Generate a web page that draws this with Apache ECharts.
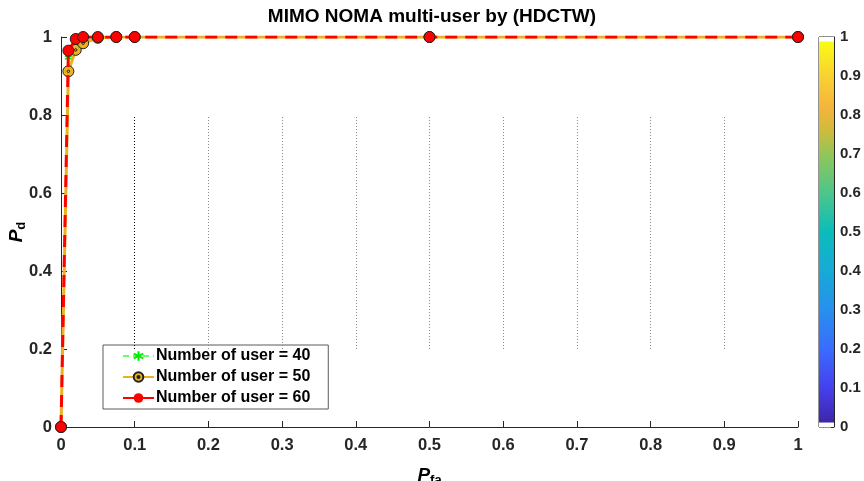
<!DOCTYPE html>
<html><head><meta charset="utf-8">
<script src="https://cdn.jsdelivr.net/npm/echarts@6/dist/echarts.min.js"></script>
<style>html,body{margin:0;padding:0;background:#fff}#c{width:864px;height:481px}</style>
</head><body><div id="c"></div>
<script>
const titleText = 'MIMO NOMA multi-user by (HDCTW)';
const pfa = [0, 0.01, 0.02, 0.03, 0.05, 0.075, 0.1, 0.5, 1];
const pd40 = [0, 0.947, 0.985, 0.995, 1, 1, 1, 1, 1];
const pd50 = [0, 0.912, 0.967, 0.984, 0.998, 1, 1, 1, 1];
const pd60 = [0, 0.965, 0.995, 1, 1, 1, 1, 1, 1];
const seriesNames = ['Number of user = 40', 'Number of user = 50', 'Number of user = 60'];
const guideX = [0.1, 0.2, 0.3, 0.4, 0.5, 0.6, 0.7, 0.8, 0.9];
const guideYLow = 0.2, guideYHigh = 0.8;
const xTicks = [0, 0.1, 0.2, 0.3, 0.4, 0.5, 0.6, 0.7, 0.8, 0.9, 1];
const yTicks = [0, 0.2, 0.4, 0.6, 0.8, 1];
const cbarTicks = [0, 0.1, 0.2, 0.3, 0.4, 0.5, 0.6, 0.7, 0.8, 0.9, 1];

const FONT = 'Liberation Sans';
const AX = '#262626';
const pairs = ys => pfa.map((x, i) => [x, ys[i]]);
const fmt = v => String(+v.toFixed(2));

const starPath = 'path://M0,-10L0,10M-8.66,-5L8.66,5M-8.66,5L8.66,-5';
const ringPath = 'path://M10,0A10,10 0 1,1 -10,0A10,10 0 1,1 10,0ZM2.2,0A2.2,2.2 0 1,1 -2.2,0A2.2,2.2 0 1,1 2.2,0Z';

const parula = [
  [0, '#ffffff'], [0.011, '#ffffff'], [0.012, '#3e26a8'],
  [0.1, '#4540ee'], [0.2, '#3a6cfd'], [0.3, '#2790ed'], [0.4, '#17aad6'],
  [0.5, '#0bbcbc'], [0.6, '#4cc68a'], [0.7, '#93c55a'], [0.76, '#cfbb3c'],
  [0.82, '#f5b43c'], [0.9, '#f9d132'], [0.988, '#f9fb15'], [0.989, '#ffffff'], [1, '#ffffff']
].map(([o, c]) => ({ offset: 1 - o, color: c }));

const nameRich = {
  p: { fontFamily: FONT, fontStyle: 'italic', fontWeight: 'bold', fontSize: 19, color: '#000' },
  s: { fontFamily: FONT, fontWeight: 'bold', fontSize: 13, color: '#000', verticalAlign: 'bottom', padding: [9, 0, 0, 0] }
};

const chart = echarts.init(document.getElementById('c'), null, { renderer: 'canvas' });
chart.setOption({
  animation: false,
  backgroundColor: '#ffffff',
  textStyle: { fontFamily: FONT },
  title: {
    text: titleText, left: 427, top: 2, textAlign: 'center',
    textStyle: { fontFamily: FONT, fontWeight: 'bold', fontSize: 19, color: '#000' }
  },
  grid: [
    { left: 61, right: 66, top: 37, bottom: 54, containLabel: false, outerBoundsMode: 'none' },
    { left: 819, width: 15, top: 37, height: 390, show: true, borderColor: AX, borderWidth: 1, backgroundColor: 'transparent', containLabel: false, outerBoundsMode: 'none' }
  ],
  legend: {
    orient: 'vertical', left: 103, top: 345,
    data: [
      { name: seriesNames[0] },
      { name: seriesNames[1] },
      { name: seriesNames[2], itemStyle: { borderWidth: 0 } }
    ],
    backgroundColor: '#fff', borderColor: '#5a5a5a', borderWidth: 1,
    padding: [3, 18, 3, 19], itemGap: 5, itemWidth: 31, itemHeight: 12,
    textStyle: { fontFamily: FONT, fontWeight: 'bold', fontSize: 16, color: '#000', padding: [0, 0, 0, -3] }
  },
  xAxis: [
    {
      type: 'value', gridIndex: 0, min: 0, max: 1, interval: 0.1,
      name: '{p|P}{s|fa}', nameLocation: 'middle', nameGap: 38, nameMoveOverlap: false,
      nameTextStyle: { rich: nameRich },
      axisLine: { show: true, onZero: false, lineStyle: { color: AX, width: 1 } },
      axisTick: { show: true, inside: true, length: 6, lineStyle: { color: AX } },
      axisLabel: { formatter: fmt, fontFamily: FONT, fontWeight: 'bold', fontSize: 16.5, color: '#262626', margin: 10 },
      splitLine: { show: false }
    },
    { type: 'category', gridIndex: 1, data: [''], show: false }
  ],
  yAxis: [
    {
      type: 'value', gridIndex: 0, min: 0, max: 1, interval: 0.2,
      name: '{p|P}{s|d}', nameLocation: 'middle', nameGap: 33, nameRotate: 90, nameMoveOverlap: false,
      nameTextStyle: { rich: nameRich },
      axisLine: { show: true, onZero: false, lineStyle: { color: AX, width: 1 } },
      axisTick: { show: true, inside: true, length: 6, lineStyle: { color: AX } },
      axisLabel: { formatter: fmt, fontFamily: FONT, fontWeight: 'bold', fontSize: 16.5, color: '#262626', margin: 9 },
      splitLine: { show: false }
    },
    {
      type: 'value', gridIndex: 1, min: 0, max: 1, interval: 0.1, position: 'right',
      axisLine: { show: true, lineStyle: { color: AX } },
      axisTick: { show: true, inside: true, length: 3, lineStyle: { color: AX } },
      axisLabel: { formatter: fmt, fontFamily: FONT, fontWeight: 'bold', fontSize: 15, color: '#262626', margin: 6 },
      splitLine: { show: false }
    }
  ],
  series: [
    {
      name: 'guides', type: 'line', xAxisIndex: 0, yAxisIndex: 0, data: [], silent: true,
      markLine: {
        silent: true, symbol: 'none', label: { show: false }, animation: false,
        data: guideX.map((x, i) => [
          { coord: [x, guideYLow], lineStyle: { color: i === 0 ? '#000' : '#8a8a8a', type: [1, 2], width: 1 } },
          { coord: [x, guideYHigh] }
        ])
      }
    },
    {
      name: seriesNames[0], type: 'line', data: pairs(pd40),
      color: '#33ff33', symbol: starPath, symbolSize: 7, showAllSymbol: true,
      lineStyle: { color: '#66ff66', width: 1, type: [6, 4] },
      itemStyle: { color: 'rgba(0,0,0,0)', borderColor: '#00ee00', borderWidth: 1.3 },
      z: 3
    },
    {
      name: seriesNames[1], type: 'line', data: pairs(pd50),
      color: '#EDB120', symbol: ringPath, symbolSize: 11, showAllSymbol: true,
      lineStyle: { color: '#EDB120', width: 3 },
      itemStyle: { color: '#EDB120', borderColor: '#222', borderWidth: 1 },
      z: 4
    },
    {
      name: seriesNames[2], type: 'line', data: pairs(pd60),
      color: '#ff0000', symbol: 'circle', symbolSize: 11, showAllSymbol: true,
      lineStyle: { color: '#ff0000', width: 3, type: [12, 8] },
      itemStyle: { color: '#ff0000', borderColor: '#222', borderWidth: 1 },
      z: 5
    },
    {
      name: 'colorbar', type: 'bar', xAxisIndex: 1, yAxisIndex: 1, data: [1], barWidth: '100%', silent: true,
      itemStyle: { color: { type: 'linear', x: 0, y: 0, x2: 0, y2: 1, colorStops: parula } }
    }
  ]
});
</script></body></html>
